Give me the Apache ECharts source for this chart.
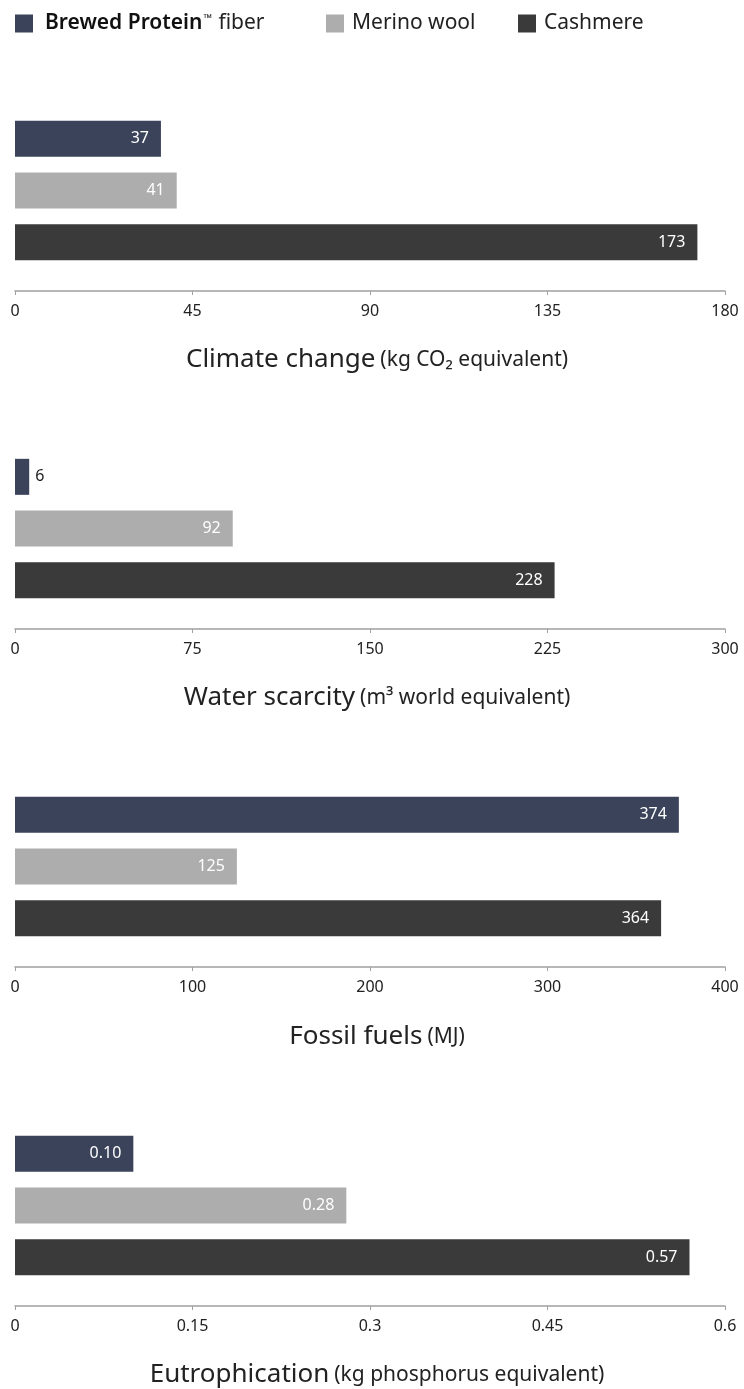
<!DOCTYPE html>
<html><head><meta charset="utf-8">
<script src="https://cdn.jsdelivr.net/npm/echarts@6/dist/echarts.min.js"></script>
<style>html,body{margin:0;padding:0;background:#fff}#c{width:744px;height:1389px}</style>
</head><body><div id="c"></div>
<script>
var seriesNames = ['Brewed Protein\u2122 fiber', 'Merino wool', 'Cashmere'];
var colors = ['#3a4359', '#adadae', '#3a3a3a'];
var climate = [37, 41, 173];
var water = [6, 92, 228];
var fossil = [374, 125, 364];
var eutro = [0.10, 0.28, 0.57];
var panelTitles = ['Climate change', 'Water scarcity', 'Fossil fuels', 'Eutrophication'];
var panelUnits = ['(kg CO\u2082 equivalent)', '(m\u00b3 world equivalent)', '(MJ)', '(kg phosphorus equivalent)'];
var axisMax = [180, 300, 400, 0.6];
var axisInterval = [45, 75, 100, 0.15];
var labelDecimals = [0, 0, 0, 2];

var panels = [climate, water, fossil, eutro];
var FONT = '"Noto Sans", "Open Sans", sans-serif';
var tops = [113, 451, 789, 1128];
var titleY = [342, 680, 1019, 1357];
var legendLeft = [15, 326, 518];

var grids = [], xAxes = [], yAxes = [], series = [], titles = [];
panels.forEach(function (vals, i) {
  grids.push({ left: 15, right: 19, top: tops[i], height: 155, containLabel: false });
  xAxes.push({
    type: 'value', gridIndex: i, min: 0, max: axisMax[i], interval: axisInterval[i],
    position: 'bottom', offset: 23,
    axisLine: { show: true, lineStyle: { color: '#a0a0a0', width: 1.5 } },
    axisTick: { show: true, length: 4, lineStyle: { color: '#a0a0a0', width: 1 } },
    splitLine: { show: false },
    axisLabel: { margin: 12, fontSize: 16, color: '#222', fontFamily: FONT }
  });
  yAxes.push({
    type: 'category', gridIndex: i, data: seriesNames, inverse: true,
    axisLine: { show: false }, axisTick: { show: false }, axisLabel: { show: false }
  });
  seriesNames.forEach(function (nm, j) {
    var data = seriesNames.map(function (_, k) {
      if (k !== j) return '-';
      var v = vals[k];
      var small = v / axisMax[i] < 0.05;
      return {
        value: v,
        label: small ? { position: 'right', color: '#222', distance: 6 } : undefined
      };
    });
    series.push({
      name: nm, type: 'bar', xAxisIndex: i, yAxisIndex: i, barWidth: 36, barGap: '-100%',
      itemStyle: { color: colors[j] },
      label: {
        show: true, position: 'insideRight', distance: 12, color: '#fff', fontSize: 16,
        fontFamily: FONT,
        formatter: (function (d) { return function (p) { return Number(p.value).toFixed(d); }; })(labelDecimals[i])
      },
      emphasis: { disabled: true },
      data: data
    });
  });
  titles.push({
    text: '{m|' + panelTitles[i] + '} {u|' + panelUnits[i] + '}',
    left: 372, top: titleY[i], textAlign: 'center',
    textStyle: {
      fontWeight: 'normal',
      rich: {
        m: { fontSize: 26, color: '#222', fontFamily: FONT, fontWeight: 'normal' },
        u: { fontSize: 21, color: '#222', fontFamily: FONT, fontWeight: 'normal' }
      }
    }
  });
});

var legends = seriesNames.map(function (nm, j) {
  return {
    data: [nm], left: legendLeft[j], top: 13, padding: 0, icon: 'rect',
    itemWidth: 18, itemHeight: 18, selectedMode: false,
    textStyle: {
      fontSize: 21, color: '#222', fontFamily: FONT, padding: [0, 0, 0, j === 0 ? 7 : 3],
      rich: {
        b: { fontSize: 21, fontWeight: 600, color: '#111', fontFamily: FONT },
        s: { fontSize: 11, color: '#111', fontFamily: FONT, verticalAlign: 'top', padding: [0, 1, 9, 1] },
        r: { fontSize: 21, color: '#222', fontFamily: FONT }
      }
    },
    formatter: function (name) {
      if (name === seriesNames[0]) return '{b|Brewed Protein}{s|\u2122}{r| fiber}';
      return name;
    }
  };
});

var chart = echarts.init(document.getElementById('c'), null, { renderer: 'canvas' });
chart.setOption({
  animation: false,
  title: titles,
  legend: legends,
  grid: grids, xAxis: xAxes, yAxis: yAxes, series: series
});
</script></body></html>
